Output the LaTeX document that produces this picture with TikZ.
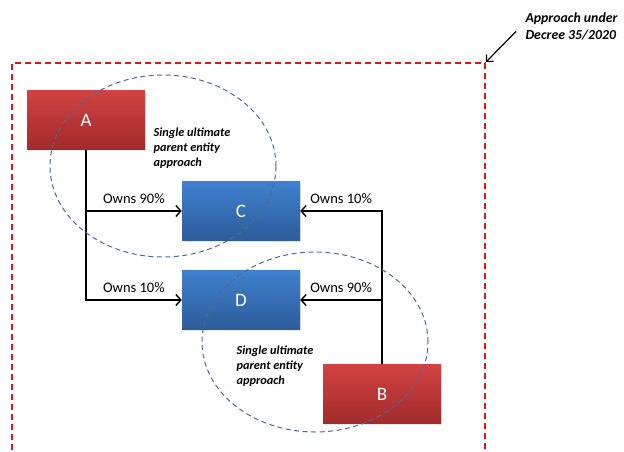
\documentclass[tikz,border=0pt]{standalone}
\usepackage{fontspec}
\setmainfont{Carlito}
\usetikzlibrary{arrows.meta,shadows}

\definecolor{redtop}{HTML}{D24242}
\definecolor{redbot}{HTML}{A12B2B}
\definecolor{bluetop}{HTML}{3F80CE}
\definecolor{bluebot}{HTML}{2D5C9A}
\definecolor{groupblue}{HTML}{4A6A98}
\definecolor{framered}{HTML}{E01515}

\begin{document}
\begin{tikzpicture}[x=1pt,y=-1pt,
    entity/.style={minimum width=118pt, minimum height=59pt, text=white,
      font=\fontsize{19}{19}\selectfont,
      drop shadow={opacity=0.2, shadow xshift=1.2pt, shadow yshift=-1.2pt}},
    parent/.style={entity, top color=redtop, bottom color=redbot},
    sub/.style={entity, top color=bluetop, bottom color=bluebot},
    owns/.style={line width=1.4pt, -{Straight Barb[length=5pt,width=11pt]}},
    pct/.style={pos=0.75, above=3pt, font=\fontsize{14.5}{14.5}\selectfont},
    note/.style={font=\fontsize{12.3}{15}\selectfont\bfseries\itshape, align=left},
    group/.style={draw=groupblue, line width=1pt, dash pattern=on 5pt off 3.5pt}]
  \clip (0,0) rectangle (624,451);
  % Frame of the decree approach
  \draw[framered, line width=1.5pt, dash pattern=on 6pt off 4pt]
    (12,470) -- (12,63) -- (485,63) -- (485,470);
  \coordinate (corner) at (486,62);
  % Entities
  \node[parent] (A) at (86,120) {A};
  \node[sub] (C) at (241,211) {C};
  \node[sub] (D) at (241,300) {D};
  \node[parent] (B) at (382,394) {B};
  % Ownership
  \draw[owns] (A.south) |- node[pct] {Owns 90\%} (C.west);
  \draw[owns] (A.south) |- node[pct] {Owns 10\%} (D.west);
  \draw[owns] (B.north) |- node[pct] {Owns 10\%} (C.east);
  \draw[owns] (B.north) |- node[pct] {Owns 90\%} (D.east);
  % Groups
  \draw[group] (163,166) ellipse [x radius=113pt, y radius=91pt];
  \draw[group] (315,342) ellipse [x radius=113pt, y radius=90pt];
  \node[note, anchor=north west] (groupA) at (150,124) {Single ultimate\\parent entity\\approach};
  \node[note, anchor=north west] (groupB) at (233,342) {Single ultimate\\parent entity\\approach};
  % Decree label
  \node[note, font=\fontsize{13.8}{17.5}\selectfont\bfseries\itshape, anchor=north west]
    (decree) at (522,9) {Approach under\\Decree 35/2020};
  \draw[line width=1.2pt, -{Straight Barb[length=5pt,width=10pt]}]
    ([xshift=-6pt,yshift=-5pt]decree.west) -- (corner);
\end{tikzpicture}
\end{document}
